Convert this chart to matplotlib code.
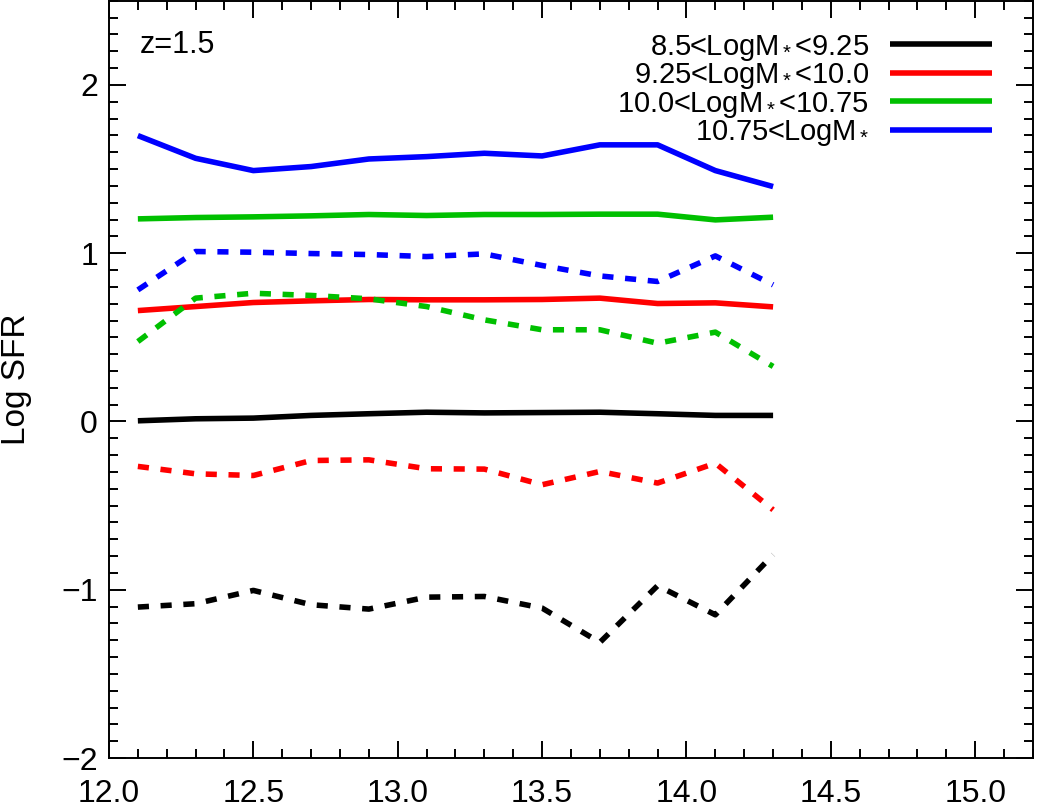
import numpy as np
import matplotlib
matplotlib.use("Agg")
import matplotlib.pyplot as plt
from matplotlib.ticker import MultipleLocator, FormatStrFormatter

plt.rcParams['font.family'] = ['Liberation Sans', 'DejaVu Sans']
plt.rcParams['mathtext.fontset'] = 'custom'
plt.rcParams['mathtext.rm'] = 'Liberation Sans'
plt.rcParams['mathtext.it'] = 'Liberation Sans'

# halo mass bins
log_mh = [12.1, 12.3, 12.5, 12.7, 12.9, 13.1, 13.3, 13.5, 13.7, 13.9, 14.1, 14.3]

labels = ['8.5<LogM$_*$<9.25', '9.25<LogM$_*$<10.0',
          '10.0<LogM$_*$<10.75', '10.75<LogM$_*$']
colors = ['black', '#ff0000', '#00c000', '#0000ff']

# solid lines
sfr_black = [0.004, 0.016, 0.020, 0.036, 0.046, 0.055, 0.051, 0.053, 0.055, 0.046, 0.036, 0.036]
sfr_red = [0.659, 0.683, 0.707, 0.717, 0.725, 0.723, 0.723, 0.725, 0.733, 0.701, 0.705, 0.681]
sfr_green = [1.204, 1.212, 1.216, 1.222, 1.230, 1.224, 1.230, 1.230, 1.232, 1.232, 1.198, 1.214]
sfr_blue = [1.699, 1.564, 1.491, 1.515, 1.560, 1.574, 1.594, 1.578, 1.644, 1.644, 1.491, 1.396]

# dashed lines
sfr_black_d = [-1.103, -1.083, -1.004, -1.089, -1.115, -1.044, -1.040, -1.109, -1.313, -0.976, -1.149, -0.792]
sfr_red_d = [-0.267, -0.311, -0.321, -0.232, -0.228, -0.281, -0.283, -0.376, -0.297, -0.366, -0.248, -0.525]
sfr_green_d = [0.475, 0.733, 0.762, 0.749, 0.729, 0.683, 0.604, 0.545, 0.545, 0.465, 0.531, 0.327]
sfr_blue_d = [0.782, 1.010, 1.006, 0.998, 0.992, 0.980, 0.996, 0.927, 0.865, 0.832, 0.984, 0.812]

solid = [sfr_black, sfr_red, sfr_green, sfr_blue]
dashed = [sfr_black_d, sfr_red_d, sfr_green_d, sfr_blue_d]

fig = plt.figure(figsize=(10.37, 8.07), dpi=100)
ax = fig.add_axes([0.1051, 0.0607, 0.891, 0.9383])

lw = 4.0
for y, c, lab in zip(solid, colors, labels):
    ax.plot(log_mh, y, color=c, lw=lw, label=lab, solid_capstyle='butt')
for y, c in zip(dashed, colors):
    ax.plot(log_mh, y, color=c, lw=lw, linestyle=(0, (2.0, 2.1)), dash_capstyle='butt')

ax.set_xlim(12.0, 15.2)
ax.set_ylim(-2.0, 2.5)
ax.xaxis.set_major_locator(MultipleLocator(0.5))
ax.xaxis.set_minor_locator(MultipleLocator(0.1))
ax.yaxis.set_major_locator(MultipleLocator(1))
ax.yaxis.set_minor_locator(MultipleLocator(0.1))
ax.xaxis.set_major_formatter(FormatStrFormatter('%.1f'))

ax.tick_params(which='both', direction='in', top=True, right=True, width=1.4)
ax.tick_params(which='major', length=12)
ax.tick_params(which='minor', length=6.5)
ax.tick_params(axis='x', which='major', pad=15, labelsize=23)
ax.tick_params(axis='y', which='major', pad=8, labelsize=23)
for s in ax.spines.values():
    s.set_linewidth(1.4)

ax.set_ylabel('Log SFR', fontsize=24)
ax.yaxis.set_label_coords(-0.083, 0.5)

ax.text(0.0335, 0.931, 'z=1.5', transform=ax.transAxes, fontsize=22, va='baseline', ha='left')

ax.legend(loc='upper right', bbox_to_anchor=(0.9556, 0.958), frameon=False,
          markerfirst=False, fontsize=21, handlelength=3.5, handletextpad=0.7,
          labelspacing=-0.05, borderpad=0, borderaxespad=0)

fig.savefig('out.png', dpi=100)
